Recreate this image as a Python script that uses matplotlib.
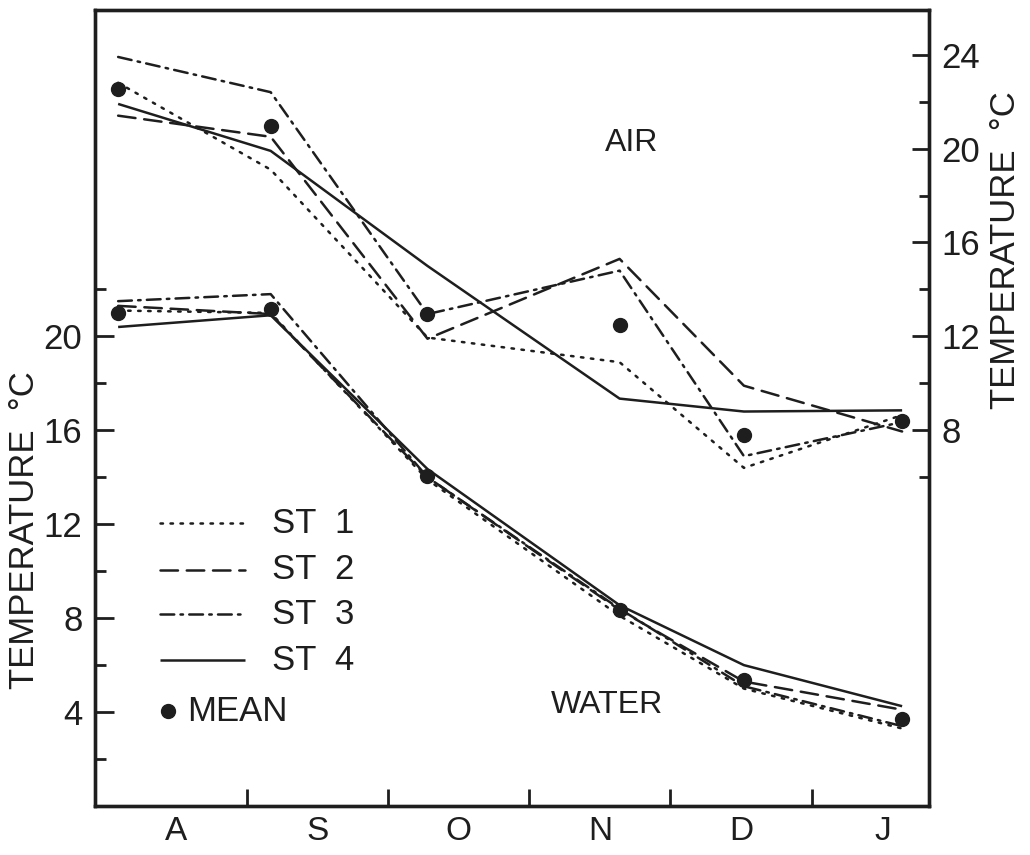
import matplotlib
matplotlib.use("Agg")
import matplotlib.pyplot as plt

plt.rcParams['font.family'] = ['Liberation Sans', 'DejaVu Sans']

# ---- data -------------------------------------------------------------
months = ['A', 'S', 'O', 'N', 'D', 'J']
# sampling dates, expressed as months elapsed since 1 August
sample_pos = [0.09, 1.17, 2.28, 3.64, 4.52, 5.64]

stations = ['ST  1', 'ST  2', 'ST  3', 'ST  4']

# water temperature (°C, left axis)
water_st1 = [21.1, 21.0, 13.9, 8.1, 5.0, 3.3]
water_st2 = [21.3, 20.95, 14.0, 8.35, 5.3, 4.1]
water_st3 = [21.5, 21.8, 14.0, 8.4, 5.1, 3.4]
water_st4 = [20.4, 20.9, 14.35, 8.55, 6.0, 4.25]
water_mean = [21.0, 21.15, 14.05, 8.35, 5.35, 3.7]

# air temperature (°C, right axis)
air_st1 = [22.8, 19.1, 11.95, 10.9, 6.4, 8.65]
air_st2 = [21.4, 20.5, 11.9, 15.3, 9.9, 7.95]
air_st3 = [23.9, 22.4, 12.95, 14.8, 6.9, 8.35]
air_st4 = [21.9, 19.9, 15.0, 9.35, 8.8, 8.85]
air_mean = [22.55, 20.95, 12.95, 12.5, 7.8, 8.4]

water_lines = [water_st1, water_st2, water_st3, water_st4]
air_lines = [air_st1, air_st2, air_st3, air_st4]

# ---- styling ----------------------------------------------------------
INK = '#1e1e1e'
LW = 1.8
dash_patterns = [
    (0, (1, 3)),              # dotted
    (0, (7, 3.5)),            # dashed
    (0, (5.5, 2.5, 1, 2.5)),  # dash-dot
    'solid',
]
FS = 25

fig = plt.figure(figsize=(10.30, 8.55), dpi=100)
fig.patch.set_facecolor('white')
ax = fig.add_axes([0.0922, 0.0573, 0.8097, 0.9310])
ax2 = ax.twinx()

for vals, ls in zip(water_lines, dash_patterns):
    ax.plot(sample_pos, vals, color=INK, lw=LW, linestyle=ls,
            dash_capstyle='round', solid_capstyle='butt', zorder=3)
ax.plot(sample_pos, water_mean, linestyle='none', marker='o',
        markersize=10, color=INK, zorder=4)

for vals, ls in zip(air_lines, dash_patterns):
    ax2.plot(sample_pos, vals, color=INK, lw=LW, linestyle=ls,
             dash_capstyle='round', solid_capstyle='butt', zorder=3)
ax2.plot(sample_pos, air_mean, linestyle='none', marker='o',
         markersize=10, color=INK, zorder=4)

# ---- axes ranges and ticks -------------------------------------------
ax.set_xlim(-0.074, 5.83)
ax.set_ylim(0, 33.9)
ax2.set_ylim(-8, 25.9)

ax.set_xticks([1, 2, 3, 4, 5])
ax.set_xticklabels([])
ax.set_xticks([i + 0.5 for i in range(len(months))], minor=True)
ax.set_xticklabels(months, minor=True)
ax.tick_params(axis='x', which='major', direction='in', length=12,
               width=2, color=INK)
ax.tick_params(axis='x', which='minor', length=0, pad=7,
               labelsize=24, labelcolor=INK)

left_major = [4, 8, 12, 16, 20]
left_minor = [2, 6, 10, 14, 18, 22]
ax.set_yticks(left_major)
ax.set_yticklabels([str(v) for v in left_major])
ax.set_yticks(left_minor, minor=True)
ax.tick_params(axis='y', which='major', direction='in', length=14,
               width=2, color=INK, labelsize=FS, labelcolor=INK, pad=9)
ax.tick_params(axis='y', which='minor', direction='in', length=8,
               width=2, color=INK)

right_major = [8, 12, 16, 20, 24]
right_minor = [6, 10, 14, 18, 22]
ax2.set_yticks(right_major)
ax2.set_yticklabels([str(v) for v in right_major])
ax2.set_yticks(right_minor, minor=True)
ax2.tick_params(axis='y', which='major', direction='in', length=12,
                width=2, color=INK, labelsize=FS, labelcolor=INK, pad=9)
ax2.tick_params(axis='y', which='minor', direction='in', length=7,
                width=2, color=INK)

for a in (ax, ax2):
    for sp in a.spines.values():
        sp.set_linewidth(2.4)
        sp.set_color(INK)

# ---- labels -----------------------------------------------------------
fig.text(0.024, 0.38, 'TEMPERATURE  °C', rotation=90, ha='center',
         va='center', fontsize=FS, color=INK)
fig.text(0.976, 0.708, 'TEMPERATURE  °C', rotation=90, ha='center',
         va='center', fontsize=FS, color=INK)

ax.text(0.644, 0.833, 'AIR', transform=ax.transAxes, ha='center',
        va='center', fontsize=23, color=INK)
ax.text(0.614, 0.127, 'WATER', transform=ax.transAxes, ha='center',
        va='center', fontsize=23, color=INK)

# ---- key --------------------------------------------------------------
key_rows = [0.3555, 0.2965, 0.241, 0.183]
for name, ls, yk in zip(stations, dash_patterns, key_rows):
    ax.plot([0.078, 0.180], [yk, yk], transform=ax.transAxes, color=INK,
            lw=LW, linestyle=ls, dash_capstyle='round',
            solid_capstyle='butt', clip_on=False)
    ax.text(0.212, yk, name, transform=ax.transAxes, ha='left',
            va='center', fontsize=FS, color=INK)
ax.plot([0.0875], [0.119], transform=ax.transAxes, marker='o',
        markersize=10, color=INK, linestyle='none')
ax.text(0.111, 0.119, 'MEAN', transform=ax.transAxes, ha='left',
        va='center', fontsize=FS, color=INK)

fig.savefig('out.png', dpi=100, facecolor='white')
